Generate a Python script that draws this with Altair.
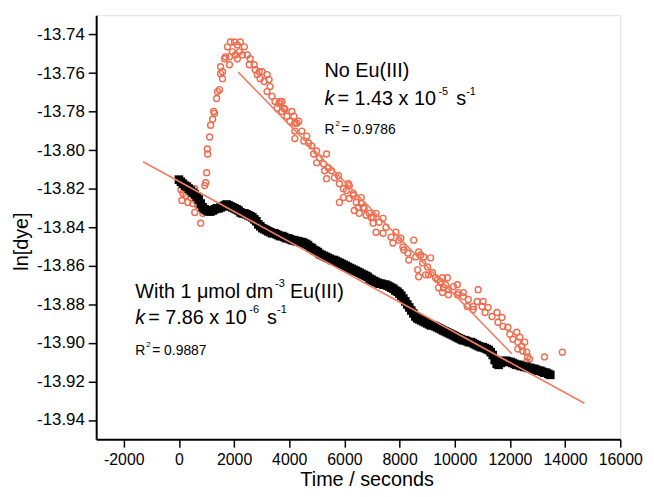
import altair as alt
import pandas as pd

# ---- data ----
orange_x = [36, 72, 144, 108, 180, 251, 323, 359, 395, 431, 503, 575, 611, 647, 682, 718, 575, 790, 862, 790,
            934, 970, 1006, 1042, 1030, 1114, 1149, 1221, 1293, 1257, 1365, 1401, 1473, 1580, 1580, 1509, 1509,
            1652, 1760, 1868, 2012, 2119, 2227, 2371, 1688, 1832, 1940, 2047, 2191, 2299, 2478, 2586, 2550, 1832,
            2119, 2730, 2766, 2910, 3017, 3197, 2838, 2945, 3089, 3269, 3305, 3197, 3376, 3484, 3628, 3736, 3556,
            3736, 3844, 3915, 4095, 4167, 4023, 4203, 4203, 3664, 3808, 4274, 4346, 4203, 4454, 4634, 4526, 4705,
            4813, 4885, 4993, 5101, 5352, 4993, 5244, 5424, 5280, 5532, 5352, 5639, 5783, 5819, 5963, 6070, 6142,
            5963, 5819, 6178, 6322, 6430, 6502, 6609, 6717, 6358, 6537, 6789, 6897, 7040, 6178, 6322, 6609, 6681,
            6968, 7040, 7148, 7256, 7400, 7507, 7148, 7400, 7687, 7867, 7974, 7759, 8118, 8298, 8513, 8334, 8585,
            8765, 8836, 8657, 9016, 9124, 8944, 9196, 9375, 9555, 9663, 9411, 9771, 9950, 10130, 10310, 10453,
            10489, 10669, 10849, 10813, 10992, 11100, 11208, 11351, 11531, 11567, 11711, 11747, 11926, 11998,
            12106, 12250, 12286, 12429, 12465, 12608, 12644, 12608, 13254, 13901, 12357, 12537, 12716, 12286,
            8046, 8154, 8693, 8872, 8693, 9052, 9303, 9483, 9735, 9591, 10094, 9555, 9771, 10094, 10310, 11028,
            10669]
orange_y = [-13.8158, -13.8205, -13.8225, -13.8261, -13.8184, -13.8235, -13.8271, -13.8189, -13.8220, -13.8246,
            -13.8277, -13.8200, -13.8261, -13.8235, -13.8287, -13.8251, -13.8323, -13.8297, -13.8328, -13.8379,
            -13.8184, -13.8169, -13.8117, -13.8020, -13.7994, -13.7932, -13.7871, -13.7840, -13.7809, -13.7799,
            -13.7732, -13.7696, -13.7686, -13.7629, -13.7593, -13.7567, -13.7603, -13.7526, -13.7464, -13.7439,
            -13.7439, -13.7454, -13.7439, -13.7464, -13.7516, -13.7516, -13.7490, -13.7506, -13.7490, -13.7506,
            -13.7506, -13.7526, -13.7557, -13.7557, -13.7526, -13.7557, -13.7583, -13.7593, -13.7593, -13.7608,
            -13.7608, -13.7629, -13.7644, -13.7634, -13.7670, -13.7696, -13.7721, -13.7747, -13.7757, -13.7747,
            -13.7783, -13.7799, -13.7788, -13.7824, -13.7799, -13.7824, -13.7850, -13.7860, -13.7940, -13.7747,
            -13.7783, -13.7860, -13.7850, -13.7901, -13.7901, -13.7927, -13.7953, -13.7963, -13.7978, -13.8020,
            -13.8004, -13.8040, -13.8020, -13.8066, -13.8071, -13.8092, -13.8107, -13.8107, -13.8148, -13.8143,
            -13.8133, -13.8174, -13.8200, -13.8210, -13.8174, -13.8246, -13.8271, -13.8251, -13.8235, -13.8271,
            -13.8297, -13.8277, -13.8302, -13.8313, -13.8328, -13.8338, -13.8328, -13.8349, -13.8184, -13.8225,
            -13.8246, -13.8297, -13.8349, -13.8379, -13.8328, -13.8374, -13.8354, -13.8400, -13.8426, -13.8431,
            -13.8451, -13.8426, -13.8467, -13.8482, -13.8503, -13.8534, -13.8467, -13.8570, -13.8554, -13.8544,
            -13.8585, -13.8621, -13.8606, -13.8559, -13.8647, -13.8636, -13.8672, -13.8662, -13.8698, -13.8714,
            -13.8724, -13.8708, -13.8739, -13.8760, -13.8811, -13.8775, -13.8827, -13.8724, -13.8785, -13.8811,
            -13.8842, -13.8816, -13.8863, -13.8842, -13.8893, -13.8868, -13.8914, -13.8919, -13.8955, -13.8981,
            -13.8945, -13.8996, -13.9017, -13.9042, -13.9048, -13.9073, -13.9099, -13.9073, -13.9048, -13.8971,
            -13.8996, -13.9084, -13.9032, -13.8457, -13.8518, -13.8528, -13.8554, -13.8657, -13.8647, -13.8662,
            -13.8683, -13.8662, -13.8714, -13.8698, -13.8739, -13.8750, -13.8750, -13.8739, -13.8785, -13.8811]

black_x = [0, 72, 144, 216, 288, 360, 432, 504, 576, 648,
           720, 792, 864, 936, 1008, 1080, 1152, 1224, 1296, 1368,
           1440, 1512, 1584, 1656, 1728, 1800, 1872, 1944, 2016, 2088,
           2160, 2232, 2304, 2376, 2448, 2520, 2592, 2664, 2736, 2808,
           2880, 2952, 3024, 3096, 3168, 3240, 3312, 3384, 3456, 3528,
           3600, 3672, 3744, 3816, 3888, 3960, 4032, 4104, 4176, 4248,
           4320, 4392, 4464, 4536, 4608, 4680, 4752, 4824, 4896, 4968,
           5040, 5112, 5184, 5256, 5328, 5400, 5472, 5544, 5616, 5688,
           5760, 5832, 5904, 5976, 6048, 6120, 6192, 6264, 6336, 6408,
           6480, 6552, 6624, 6696, 6768, 6840, 6912, 6984, 7056, 7128,
           7200, 7272, 7344, 7416, 7488, 7560, 7632, 7704, 7776, 7848,
           7920, 7992, 8064, 8136, 8208, 8280, 8352, 8424, 8496, 8568,
           8640, 8712, 8784, 8856, 8928, 9000, 9072, 9144, 9216, 9288,
           9360, 9432, 9504, 9576, 9648, 9720, 9792, 9864, 9936, 10008,
           10080, 10152, 10224, 10296, 10368, 10440, 10512, 10584, 10656, 10728,
           10800, 10872, 10944, 11016, 11088, 11160, 11232, 11304, 11376, 11448,
           11520, 11592, 11664, 11736, 11808, 11880, 11952, 12024, 12096, 12168,
           12240, 12312, 12384, 12456, 12528, 12600, 12672, 12744, 12816, 12888,
           12960, 13032, 13104, 13176, 13248, 13320, 13392, 13464]
black_y = [-13.8153, -13.8164, -13.8174, -13.8184, -13.8189, -13.8200, -13.8210, -13.8220, -13.8230, -13.8241,
           -13.8256, -13.8277, -13.8297, -13.8307, -13.8313, -13.8318, -13.8318, -13.8313, -13.8307, -13.8302,
           -13.8302, -13.8297, -13.8292, -13.8287, -13.8282, -13.8287, -13.8292, -13.8297, -13.8302, -13.8307,
           -13.8313, -13.8323, -13.8328, -13.8328, -13.8333, -13.8338, -13.8343, -13.8349, -13.8359, -13.8369,
           -13.8385, -13.8395, -13.8405, -13.8410, -13.8415, -13.8421, -13.8426, -13.8431, -13.8431, -13.8436,
           -13.8441, -13.8446, -13.8446, -13.8451, -13.8457, -13.8457, -13.8462, -13.8467, -13.8467, -13.8472,
           -13.8472, -13.8477, -13.8477, -13.8482, -13.8487, -13.8493, -13.8503, -13.8508, -13.8518, -13.8523,
           -13.8529, -13.8539, -13.8544, -13.8549, -13.8554, -13.8559, -13.8564, -13.8570, -13.8570, -13.8575,
           -13.8580, -13.8585, -13.8590, -13.8595, -13.8600, -13.8606, -13.8611, -13.8616, -13.8621, -13.8626,
           -13.8631, -13.8636, -13.8642, -13.8647, -13.8652, -13.8657, -13.8667, -13.8672, -13.8678, -13.8683,
           -13.8688, -13.8693, -13.8693, -13.8698, -13.8698, -13.8703, -13.8708, -13.8714, -13.8719, -13.8729,
           -13.8734, -13.8744, -13.8755, -13.8770, -13.8785, -13.8801, -13.8816, -13.8832, -13.8847, -13.8863,
           -13.8873, -13.8878, -13.8883, -13.8888, -13.8893, -13.8899, -13.8904, -13.8909, -13.8909, -13.8914,
           -13.8919, -13.8924, -13.8929, -13.8935, -13.8940, -13.8945, -13.8950, -13.8955, -13.8960, -13.8965,
           -13.8971, -13.8976, -13.8981, -13.8986, -13.8986, -13.8991, -13.8996, -13.8996, -13.9001, -13.9007,
           -13.9012, -13.9017, -13.9022, -13.9022, -13.9027, -13.9032, -13.9037, -13.9048, -13.9063, -13.9089,
           -13.9109, -13.9114, -13.9104, -13.9094, -13.9094, -13.9094, -13.9099, -13.9099, -13.9104, -13.9109,
           -13.9114, -13.9114, -13.9120, -13.9120, -13.9125, -13.9125, -13.9130, -13.9130, -13.9135, -13.9135,
           -13.9140, -13.9145, -13.9145, -13.9150, -13.9155, -13.9155, -13.9161, -13.9166]

fit_series = ["No Eu(III)", "No Eu(III)", "With Eu(III)", "With Eu(III)"]
fit_x = [2150, 12080, -1300, 14700]
fit_y = [-13.7595, -13.9058, -13.8060, -13.9313]

x_ticks = [-2000, -1000, 0, 1000, 2000, 3000, 4000, 5000, 6000, 7000, 8000, 9000, 10000,
           11000, 12000, 13000, 14000, 15000, 16000]
y_ticks = [-13.94, -13.93, -13.92, -13.91, -13.90, -13.89, -13.88, -13.87, -13.86, -13.85,
           -13.84, -13.83, -13.82, -13.81, -13.80, -13.79, -13.78, -13.77, -13.76, -13.75, -13.74]

FONT = "Liberation Sans"
ORANGE = "#EF6A4C"
LINE = "#F27C5E"

orange_df = pd.DataFrame({"t": orange_x, "v": orange_y})
black_df = pd.DataFrame({"t": black_x, "v": black_y})
fit_df = pd.DataFrame({"series": fit_series, "t": fit_x, "v": fit_y})

xscale = alt.Scale(domain=[-3000, 16000], nice=False, zero=False)
yscale = alt.Scale(domain=[-13.95, -13.73], nice=False, zero=False)

x_major = "datum.value % 2000 === 0"
y_major = "abs(round(datum.value * 100)) % 2 === 0"
fix_minus = "replace(datum.label, '\u2212', '-')"

xaxis = alt.Axis(
    values=x_ticks, format="d", title="Time / seconds",
    labelExpr=f"{x_major} ? {fix_minus} : ''",
    tickSize={"condition": {"test": x_major, "value": 8}, "value": 4},
    labelFlush=False, labelOverlap=False, labelPadding=4,
    labelFont=FONT, labelFontSize=16, labelColor="black",
    titleFont=FONT, titleFontSize=20, titleFontWeight="normal", titleColor="black",
    titleX=273, titleY=47, titleBaseline="alphabetic",
    domainColor="black", domainWidth=2, tickColor="black", tickWidth=1.5, grid=False,
)
yaxis = alt.Axis(
    values=y_ticks, format=".2f", title="ln[dye]",
    labelExpr=f"{y_major} ? {fix_minus} : ''",
    tickSize={"condition": {"test": y_major, "value": 8}, "value": 4},
    labelFlush=False, labelOverlap=False, labelPadding=4,
    labelFont=FONT, labelFontSize=17, labelColor="black",
    titleFont=FONT, titleFontSize=20, titleFontWeight="normal", titleColor="black",
    titleX=-69, titleY=228, titleBaseline="alphabetic",
    domainColor="black", domainWidth=2, tickColor="black", tickWidth=1.5, grid=False,
)

orange = alt.Chart(orange_df).mark_point(
    shape="circle", filled=False, size=36, strokeWidth=1.4, color=ORANGE, opacity=1
).encode(x=alt.X("t:Q", scale=xscale, axis=xaxis), y=alt.Y("v:Q", scale=yscale, axis=yaxis))

black = alt.Chart(black_df).mark_square(size=75, color="black", opacity=1).encode(
    x=alt.X("t:Q", scale=xscale), y=alt.Y("v:Q", scale=yscale)
)

fits = alt.Chart(fit_df).mark_line(strokeWidth=1.6, color=LINE).encode(
    x=alt.X("t:Q", scale=xscale), y=alt.Y("v:Q", scale=yscale), detail="series:N"
)


def txt(text, x, y, dx=0, dy=0, size=20, italic=False):
    return alt.Chart(pd.DataFrame({"label": [text]})).mark_text(
        align="left", baseline="alphabetic", dx=dx, dy=dy, fontSize=size, font=FONT,
        fontStyle="italic" if italic else "normal", color="black"
    ).encode(x=alt.datum(x), y=alt.datum(y), text="label:N")


# "No Eu(III)" block
ax1 = 5280
ann = [
    txt("No Eu(III)", ax1, -13.7619),
    txt("k", ax1, -13.7768, italic=True),
    txt("= 1.43 x 10", ax1, -13.7768, dx=13),
    txt("-5", ax1, -13.7768, dx=115, dy=-11, size=11),
    txt("s", ax1, -13.7768, dx=133),
    txt("-1", ax1, -13.7768, dx=143, dy=-11, size=11),
    txt("R", ax1, -13.7917, size=14),
    txt("2", ax1, -13.7917, dx=11, dy=-8, size=8),
    txt("= 0.9786", ax1, -13.7917, dx=17, size=14),
]
# "With 1 µmol dm-3 Eu(III)" block
ax2 = -1580
ann += [
    txt("With 1 \u03bcmol dm", ax2, -13.8765),
    txt("-3", ax2, -13.8765, dx=141, dy=-11, size=11),
    txt("Eu(III)", ax2, -13.8765, dx=156),
    txt("k", ax2, -13.8904, italic=True),
    txt("= 7.86 x 10", ax2, -13.8904, dx=13),
    txt("-6", ax2, -13.8904, dx=115, dy=-11, size=11),
    txt("s", ax2, -13.8904, dx=133),
    txt("-1", ax2, -13.8904, dx=143, dy=-11, size=11),
    txt("R", ax2, -13.9063, size=14),
    txt("2", ax2, -13.9063, dx=11, dy=-8, size=8),
    txt("= 0.9887", ax2, -13.9063, dx=17, size=14),
]

chart = alt.layer(orange, black, fits, *ann).properties(
    width=529, height=428,
    autosize=alt.AutoSizeParams(type="none"),
    padding={"left": 89, "top": 5, "right": 26, "bottom": 56},
).configure_view(stroke=None).configure(background="white")

chart.save("out.html", embed_options={"renderer": "svg", "actions": False})
